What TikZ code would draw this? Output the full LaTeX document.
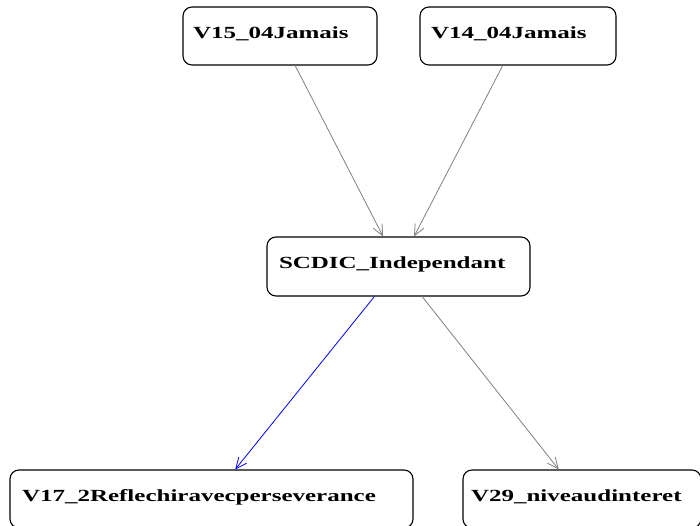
\documentclass[tikz,border=0pt]{standalone}
\usepackage{fontspec}
\newfontfamily\lblfont{Liberation Serif}[FakeStretch=1.47]
\usetikzlibrary{arrows.meta}
\begin{document}
\begin{tikzpicture}[x=1pt,y=-1pt,
  box/.style={draw=black, line width=1.1pt, rounded corners=9pt, fill=white,
    inner ysep=0pt, align=left, text height=12pt, text depth=7pt,
    font=\lblfont\bfseries\fontsize{17}{20}\selectfont, text=black},
  edge/.style={draw=black!50, line width=0.8pt, -{Straight Barb[length=11pt,width=10pt]}},
  blueedge/.style={edge, draw=blue},
]
\useasboundingbox (0,0) rectangle (700,526);
\clip (0,0) rectangle (700,526);

\node[box, minimum height=58pt, text width=174pt, inner xsep=10pt] (v15) at (280,36) {V15\_04Jamais};
\node[box, minimum height=58pt, text width=174pt, inner xsep=11pt] (v14) at (518,36) {V14\_04Jamais};
\node[box, minimum height=59pt, text width=239pt, inner xsep=12pt] (scdic) at (398.5,266.5) {SCDIC\_Independant};
\node[box, minimum height=58pt, text width=379pt, inner xsep=12pt] (v17) at (211.5,499) {V17\_2Reflechiravecperseverance};
\node[box, minimum height=58pt, text width=222pt, inner xsep=8pt] (v29) at (582,499) {V29\_niveaudinteret};

\draw[edge] (v15) -- (scdic);
\draw[edge] (v14) -- (scdic);
\draw[blueedge] (scdic) -- (v17);
\draw[edge] (scdic) -- (v29);
\end{tikzpicture}
\end{document}
